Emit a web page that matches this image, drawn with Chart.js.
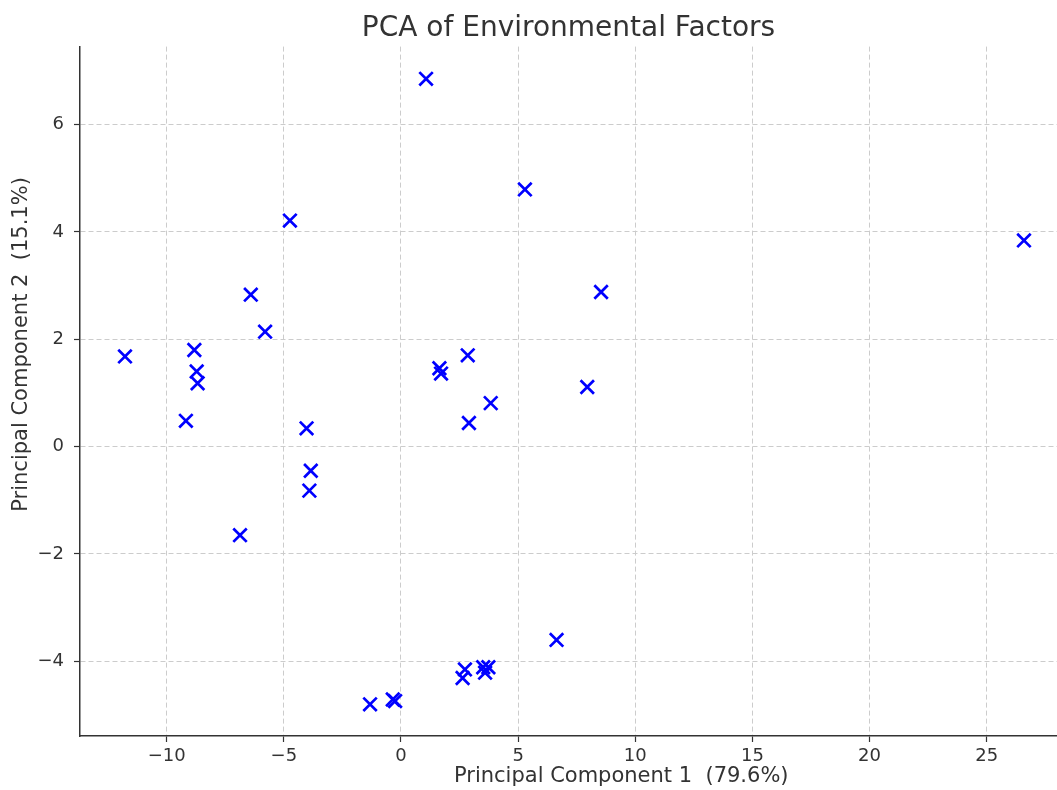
<!DOCTYPE html>
<html>
<head>
  <title>PCA of Environmental Factors</title>
  <script src="https://cdn.jsdelivr.net/npm/chart.js"></script>
  <style>
    body {
      margin: 0;
      background-color: #fff;
      overflow: hidden;
    }
    .chart-container {
      width: 1057px;
      height: 790px;
    }
  </style>
</head>
<body>
  <div class="chart-container">
    <canvas id="pcaChart"></canvas>
  </div>
  <script>
    var chartTitle = 'PCA of Environmental Factors';
    var xLabel = 'Principal Component 1  (79.6%)';
    var yLabel = 'Principal Component 2  (15.1%)';

    // scores (PC1, PC2)
    var pc1 = [1.07, 5.29, -4.74, 26.59, 8.54, -6.41, -5.80, -11.78, -8.82, -8.72,
               -8.68, -9.18, -4.03, -3.85, -3.91, -6.87, 2.85, 1.64, 1.71, 7.95,
               3.83, 2.90, 6.64, 2.73, 2.63, 3.51, 3.73, 3.59, -1.32, -0.35, -0.25];
    var pc2 = [6.85, 4.79, 4.21, 3.84, 2.88, 2.83, 2.14, 1.68, 1.80, 1.40,
               1.18, 0.48, 0.34, -0.45, -0.82, -1.65, 1.70, 1.46, 1.36, 1.11,
               0.81, 0.44, -3.60, -4.15, -4.31, -4.11, -4.11, -4.21, -4.80, -4.71, -4.74];

    var xMin = -13.7, xMax = 28.0, xStep = 5;
    var yMin = -5.39, yMax = 7.45, yStep = 2;

    var points = pc1.map(function(x, i) { return {x: x, y: pc2[i]}; });

    function minusSign(v) {
      return String(v).replace('-', '\u2212');
    }

    // axis labels drawn by hand so they sit where the original put them
    var axisLabels = {
      id: 'axisLabels',
      afterDraw: function(chart) {
        var ctx = chart.ctx;
        var area = chart.chartArea;
        ctx.save();
        ctx.fillStyle = '#333';
        ctx.font = '21px "DejaVu Sans"';
        ctx.textAlign = 'center';
        ctx.textBaseline = 'middle';
        ctx.fillText(xLabel, area.left + (area.right - area.left) * 0.554, 777);
        ctx.translate(22, area.top + (area.bottom - area.top) * 0.432);
        ctx.rotate(-Math.PI / 2);
        ctx.fillText(yLabel, 0, 0);
        ctx.restore();
      }
    };

    var ctx = document.getElementById('pcaChart').getContext('2d');
    var pcaChart = new Chart(ctx, {
      type: 'scatter',
      data: {
        datasets: [{
          label: 'samples',
          data: points,
          pointStyle: 'crossRot',
          pointRadius: 9.5,
          pointHoverRadius: 9.5,
          borderColor: '#0000ff',
          backgroundColor: '#0000ff',
          pointBorderWidth: 2.7
        }]
      },
      plugins: [axisLabels],
      options: {
        responsive: true,
        maintainAspectRatio: false,
        animation: false,
        events: [],
        layout: { padding: 0, autoPadding: false },
        plugins: {
          legend: { display: false },
          tooltip: { enabled: false },
          title: {
            display: true,
            fullSize: false,
            text: chartTitle,
            color: '#333',
            font: { family: 'DejaVu Sans', size: 28, weight: 'normal' },
            padding: { top: 12, bottom: 1 }
          }
        },
        scales: {
          x: {
            type: 'linear',
            min: xMin,
            max: xMax,
            afterFit: function(scale) {
              scale.height = 54;
              scale.paddingLeft = 0;
              scale.paddingRight = 0;
            },
            ticks: {
              stepSize: xStep,
              includeBounds: false,
              color: '#333',
              padding: 4,
              maxRotation: 0,
              font: { family: 'DejaVu Sans', size: 18 },
              callback: function(v) { return minusSign(v); }
            },
            grid: {
              color: '#cccccc',
              lineWidth: 1,
              drawTicks: true,
              tickLength: 6,
              tickColor: '#333',
              tickBorderDash: [],
              tickWidth: 1.2
            },
            border: { display: true, color: '#333', width: 1.5, dash: [5, 3] }
          },
          y: {
            type: 'linear',
            min: yMin,
            max: yMax,
            afterFit: function(scale) {
              scale.width = 80;
              scale.paddingTop = 0;
              scale.paddingBottom = 0;
            },
            ticks: {
              stepSize: yStep,
              includeBounds: false,
              color: '#333',
              padding: 10,
              font: { family: 'DejaVu Sans', size: 18 },
              callback: function(v) { return minusSign(v); }
            },
            grid: {
              color: '#cccccc',
              lineWidth: 1,
              drawTicks: true,
              tickLength: 6,
              tickColor: '#333',
              tickBorderDash: [],
              tickWidth: 1.2
            },
            border: { display: true, color: '#333', width: 1.5, dash: [5, 3] }
          }
        }
      }
    });
  </script>
</body>
</html>
